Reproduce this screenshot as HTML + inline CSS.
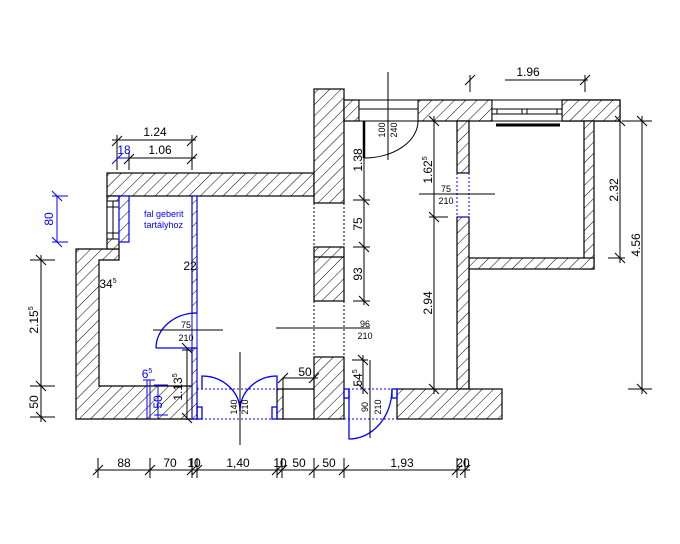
<!DOCTYPE html>
<html><head><meta charset="utf-8"><style>
html,body{margin:0;padding:0;background:#fff}
svg{display:block}
text{font-family:"Liberation Sans",sans-serif;fill:#000}
</style></head><body>
<svg width="680" height="544" viewBox="0 0 680 544" xmlns="http://www.w3.org/2000/svg">
<defs>
<pattern id="h" patternUnits="userSpaceOnUse" width="8" height="8" patternTransform="rotate(45)">
<rect width="8" height="8" fill="#fff"/><line x1="0" y1="0" x2="0" y2="8" stroke="#000" stroke-width="1"/>
</pattern>
</defs>
<g stroke="#000" stroke-width="1.2" fill="url(#h)">
<rect x="107" y="173" width="207" height="23"/>
<rect x="314" y="89" width="30" height="114"/>
<rect x="344" y="100" width="15" height="21"/>
<rect x="418" y="100" width="74" height="21"/>
<rect x="562" y="100" width="58" height="21"/>
<polygon points="584,121 620,121 620,100 562,100 562,121 584,121"/>
<rect x="584" y="121" width="10" height="148"/>
<rect x="469" y="258" width="125" height="11"/>
<rect x="457" y="121" width="12" height="52"/>
<rect x="457" y="217" width="12" height="172"/>
<rect x="397" y="389" width="105" height="30"/>
<polygon points="76,249 119,249 119,260 99,260 99,386 197,386 197,419 76,419"/>
<rect x="192" y="196" width="5" height="117"/>
<rect x="192" y="348" width="5" height="71"/>
<rect x="314" y="247" width="30" height="54"/>
<line x1="314" y1="257" x2="344" y2="257"/>
<rect x="314" y="357" width="30" height="62"/>
<rect x="277" y="389" width="6" height="30"/>
<rect x="107" y="196" width="12" height="53"/>
</g>
<!-- left window -->
<rect x="107" y="201" width="12" height="38" fill="#fff" stroke="#000"/>
<line x1="113" y1="201" x2="113" y2="239" stroke="#000"/>
<line x1="107" y1="207" x2="119" y2="207" stroke="#000"/><line x1="107" y1="233" x2="119" y2="233" stroke="#000"/>
<!-- fal geberit -->
<rect x="119" y="196" width="10" height="46" fill="url(#h)" stroke="#00f" stroke-width="1.2"/>
<rect x="192" y="196" width="5" height="223" fill="none" stroke="#00f" stroke-width="1"/>
<!-- top windows -->
<g stroke="#000" fill="#fff">
<rect x="359" y="100" width="59" height="21"/>
<line x1="359" y1="109" x2="418" y2="109"/>
<rect x="492" y="100" width="70" height="21"/>
<line x1="492" y1="109" x2="562" y2="109"/><line x1="492" y1="114" x2="562" y2="114"/>
<line x1="497" y1="109" x2="497" y2="114"/><line x1="557" y1="109" x2="557" y2="114"/>
<line x1="522" y1="109" x2="522" y2="114"/><line x1="527" y1="109" x2="527" y2="114"/>
</g>
<line x1="496" y1="125" x2="560" y2="125" stroke="#000" stroke-width="3"/>
<!-- room outlines -->
<g stroke="#000" stroke-width="1.2" fill="none">
<line x1="469" y1="269" x2="469" y2="389"/>
<line x1="283" y1="389" x2="314" y2="389"/>
<line x1="283" y1="419" x2="314" y2="419"/>
</g>
<!-- dotted -->
<g stroke="#000" stroke-dasharray="2,2" fill="none">
<line x1="314" y1="203" x2="314" y2="247"/><line x1="344" y1="203" x2="344" y2="247"/>
<line x1="314" y1="301" x2="314" y2="357"/><line x1="344" y1="301" x2="344" y2="357"/>
<line x1="359" y1="121" x2="418" y2="121"/>
</g>
<g stroke="#00f" stroke-dasharray="2,2" fill="none">
<line x1="197" y1="389" x2="277" y2="389"/><line x1="197" y1="419" x2="277" y2="419"/>
<line x1="344" y1="389" x2="397" y2="389"/><line x1="344" y1="419" x2="397" y2="419"/>
<line x1="457" y1="173" x2="457" y2="217"/><line x1="469" y1="173" x2="469" y2="217"/>
</g>
<line x1="457" y1="217" x2="469" y2="217" stroke="#00f"/>
<!-- doors -->
<g stroke="#00f" stroke-width="1.3" fill="none">
<path d="M156,348 L197,348 M156,348 A41,35 0 0 1 197,313"/>
<path d="M202,389 L202,376 A38,35 0 0 1 240,411"/>
<path d="M277,389 L277,376 A37,35 0 0 0 240,411"/>
<rect x="197" y="407" width="5" height="12"/><rect x="272" y="407" width="5" height="12"/>
<path d="M349,389 L349,439 A43,50 0 0 0 392,389"/>
<rect x="344" y="389" width="5" height="9"/><rect x="392" y="389" width="5" height="9"/>
</g>
<path d="M364,121 L364,158 A54,37 0 0 0 418,121" stroke="#000" fill="none"/>
<line x1="364" y1="121" x2="364" y2="158" stroke="#000" stroke-width="2.5"/>
<!-- door label lines -->
<g stroke="#000" fill="none">
<line x1="153" y1="330" x2="223" y2="330"/>
<line x1="276" y1="328" x2="370" y2="328"/>
<line x1="419" y1="194" x2="495" y2="194"/>
<line x1="240" y1="352" x2="240" y2="445"/>
<line x1="388" y1="72" x2="388" y2="160"/>
<line x1="370" y1="360" x2="370" y2="438"/>
</g>
<g font-size="9" text-anchor="middle">
<text x="186" y="328">75</text><text x="186" y="341">210</text>
<text x="365" y="327">96</text><text x="365" y="339">210</text>
<text x="446" y="192">75</text><text x="446" y="204">210</text>
<text transform="translate(237,407) rotate(-90)">140</text>
<text transform="translate(248,407) rotate(-90)">210</text>
<text transform="translate(368,407) rotate(-90)">90</text>
<text transform="translate(381,407) rotate(-90)">210</text>
<text transform="translate(385,130) rotate(-90)">100</text>
<text transform="translate(397,130) rotate(-90)">240</text>
</g>
<text x="144" y="217" font-size="9" fill="#00f" style="fill:#00f">fal geberit</text>
<text x="144" y="228" font-size="9" style="fill:#00f">tartályhoz</text>
<!-- dimensions -->
<g stroke="#000" fill="none">
<line x1="112" y1="140" x2="196" y2="140"/><line x1="129" y1="158" x2="196" y2="158"/>
<line x1="117" y1="135" x2="117" y2="170"/><line x1="192" y1="135" x2="192" y2="170"/>
<line x1="129" y1="152" x2="129" y2="170"/>
<path d="M112,146l10,-10M187,146l10,-10M124,164l10,-10M187,164l10,-10"/>
<line x1="41" y1="255" x2="41" y2="422"/>
<line x1="30" y1="260" x2="55" y2="260"/><line x1="30" y1="386" x2="55" y2="386"/><line x1="30" y1="417" x2="55" y2="417"/>
<path d="M36,255l10,10M36,381l10,10M36,412l10,10"/>
<line x1="505" y1="80" x2="588" y2="80"/><line x1="470" y1="75" x2="470" y2="92"/><line x1="585" y1="75" x2="585" y2="92"/>
<path d="M465,85l10,-10M580,85l10,-10"/>
<line x1="620" y1="121" x2="620" y2="263"/><line x1="608" y1="258" x2="625" y2="258"/>
<path d="M615,253l10,10M615,116l10,10"/>
<line x1="642" y1="116" x2="642" y2="394"/><line x1="622" y1="121" x2="652" y2="121"/><line x1="628" y1="389" x2="652" y2="389"/>
<path d="M637,116l10,10M637,384l10,10"/>
<line x1="434" y1="116" x2="434" y2="394"/><line x1="429" y1="217" x2="448" y2="217"/>
<path d="M429,116l10,10M429,212l10,10M429,384l10,10"/>
<line x1="364" y1="158" x2="364" y2="305"/><line x1="353" y1="200" x2="370" y2="200"/><line x1="353" y1="247" x2="370" y2="247"/><line x1="353" y1="301" x2="370" y2="301"/>
<path d="M359,195l10,10M359,242l10,10M359,296l10,10"/>
<line x1="363" y1="355" x2="363" y2="394"/><line x1="352" y1="360" x2="368" y2="360"/>
<path d="M358,355l10,10M358,384l10,10"/>
<line x1="283" y1="378" x2="318" y2="378"/><line x1="283" y1="378" x2="283" y2="389"/>
<path d="M278,383l10,-10M309,383l10,-10"/>
<line x1="187" y1="348" x2="187" y2="420"/><line x1="182" y1="350" x2="192" y2="350"/>
<path d="M182,343l10,10M182,413l10,10"/>
<line x1="95" y1="470" x2="470" y2="470"/>
<path d="M98,458v20M150,458v20M192,458v20M197,458v20M277,458v20M282,458v20M314,458v20M344,458v20M457,458v20M465,458v20"/>
<path d="M93,475l10,-10M145,475l10,-10M187,475l10,-10M192,475l10,-10M272,475l10,-10M277,475l10,-10M309,475l10,-10M339,475l10,-10M452,475l10,-10M460,475l10,-10"/>
</g>
<g stroke="#00f" fill="none">
<line x1="117" y1="158" x2="129" y2="158"/><path d="M112,164l10,-10"/>
<line x1="57" y1="196" x2="57" y2="242"/><line x1="52" y1="196" x2="68" y2="196"/><line x1="52" y1="242" x2="68" y2="242"/>
<path d="M52,191l10,10M52,237l10,10"/>
<line x1="147" y1="380" x2="147" y2="419"/><line x1="150" y1="380" x2="150" y2="419"/><line x1="143" y1="380" x2="155" y2="380"/>
<line x1="158" y1="385" x2="158" y2="419"/><line x1="154" y1="385" x2="168" y2="385"/><line x1="154" y1="415" x2="168" y2="415"/>
</g>
<g font-size="12" text-anchor="middle">
<text x="155" y="136">1.24</text><text x="160" y="154">1.06</text>
<text x="124" y="154" style="fill:#00f">18</text>
<text x="528" y="76">1.96</text>
<text x="147" y="378" style="fill:#00f">6<tspan font-size="7" dy="-5">5</tspan></text>
<text x="108" y="288">34<tspan font-size="7" dy="-5">5</tspan></text>
<text x="190" y="270">22</text>
<text x="305" y="376">50</text>
<text x="124" y="467">88</text><text x="170" y="467">70</text><text x="194" y="467">10</text>
<text x="238" y="467">1,40</text><text x="280" y="467">10</text><text x="299" y="467">50</text><text x="329" y="467">50</text>
<text x="402" y="467">1,93</text><text x="463" y="467">20</text>
<text transform="translate(38,320) rotate(-90)">2.15<tspan font-size="7" dy="-5">5</tspan></text>
<text transform="translate(38,402) rotate(-90)">50</text>
<text transform="translate(53,219) rotate(-90)" style="fill:#00f">80</text>
<text transform="translate(162,402) rotate(-90)" style="fill:#00f">50</text>
<text transform="translate(182,387) rotate(-90)">1.13<tspan font-size="7" dy="-5">5</tspan></text>
<text transform="translate(362,160) rotate(-90)">1.38</text>
<text transform="translate(362,224) rotate(-90)">75</text>
<text transform="translate(362,274) rotate(-90)">93</text>
<text transform="translate(362,378) rotate(-90)">54<tspan font-size="7" dy="-5">5</tspan></text>
<text transform="translate(432,170) rotate(-90)">1.62<tspan font-size="7" dy="-5">5</tspan></text>
<text transform="translate(432,303) rotate(-90)">2.94</text>
<text transform="translate(618,190) rotate(-90)">2.32</text>
<text transform="translate(640,245) rotate(-90)">4.56</text>
</g>
</svg>
</body></html>
